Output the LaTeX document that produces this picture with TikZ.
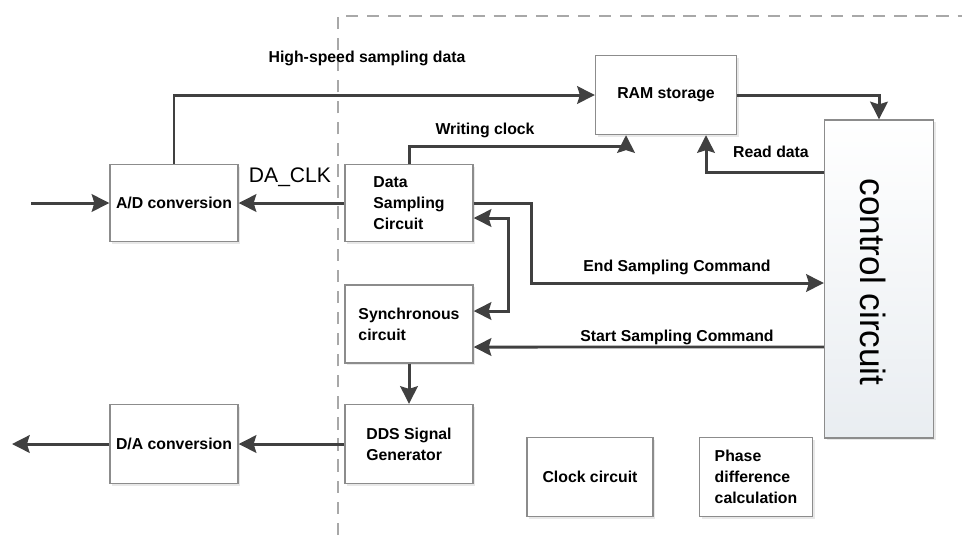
\documentclass[tikz,border=0pt]{standalone}
\usepackage{fontspec}
\setmainfont{Liberation Sans}
\usetikzlibrary{arrows.meta,shadows}

\definecolor{linegray}{HTML}{404040}
\definecolor{boxgray}{HTML}{8C8C8C}
\definecolor{dashgray}{HTML}{A8A8A8}
\definecolor{ctrlfill}{HTML}{E9EDF1}

\begin{document}
\begin{tikzpicture}[x=0.02cm, y=-0.02cm,
	>={Stealth[length=10pt,width=10pt,inset=1.5pt]},
	box/.style={rectangle, draw=boxgray, line width=0.8pt, fill=white, drop shadow={opacity=0.18, shadow xshift=1.2pt, shadow yshift=-1.2pt}, align=left, font=\bfseries\fontsize{9}{12}\selectfont, inner sep=2pt},
	lbl/.style={font=\bfseries\fontsize{9}{11}\selectfont, inner sep=1pt},
	wire/.style={line width=1.7pt, draw=linegray}]
	\useasboundingbox (0,0) rectangle (962,535);
	\draw[dashgray, line width=1.1pt, dash pattern=on 7pt off 5pt] (338,535) -- (338,16) -- (962,16);

	\node[box, minimum width=2.56cm, minimum height=1.54cm] (ad) at (174,203) {A/D conversion};
	\node[box, minimum width=2.56cm, minimum height=1.54cm] (ds) at (409,203) {Data\\Sampling\\Circuit};
	\node[box, minimum width=2.56cm, minimum height=1.56cm] (sync) at (409,324) {Synchronous\\circuit};
	\node[box, minimum width=2.56cm, minimum height=1.58cm] (dds) at (409,444) {DDS Signal\\Generator};
	\node[box, minimum width=2.56cm, minimum height=1.58cm] (da) at (174,444) {D/A conversion};
	\node[box, minimum width=2.82cm, minimum height=1.58cm] (ram) at (666,95) {RAM storage};
	\node[box, minimum width=2.18cm, minimum height=6.36cm, top color=white, bottom color=ctrlfill] (ctrl) at (879,279) {};
	\node[rotate=-90, font=\fontsize{20}{24}\selectfont] (ctrltxt) at (873,282) {control circuit};
	\node[box, minimum width=2.52cm, minimum height=1.58cm] (clk) at (590,477) {Clock circuit};
	\node[box, minimum width=2.26cm, minimum height=1.58cm] (phase) at (756,477) {Phase\\difference\\calculation};

	\coordinate (adin) at (31,203);
	\coordinate (daout) at (12,444);

	\draw[wire,->] (adin) -- (ad);
	\draw[wire,->] (ad.north) |- (ram);
	\draw[wire,->] (ds) -- (ad);
	\draw[wire,->] (ds.north) -- ++(0,-17.5) -| ([xshift=-0.8cm]ram.south);
	\draw[wire,->] ([yshift=-1.06cm]ctrl.north west) -| ([xshift=0.8cm]ram.south);
	\draw[wire,->] (ram) -| (ctrl);
	\draw[wire,->] (ds.east) -- ++(58,0) |- ([yshift=-0.08cm]ctrl.west);
	\draw[wire,<->] ([yshift=-0.3cm]ds.east) -- ++(35,0) |- ([yshift=0.26cm]sync.east);
	\draw[wire,->] ([yshift=-1.36cm]ctrl.west) -- ([yshift=-0.46cm]sync.east);
	\draw[wire,->] (sync) -- (dds);
	\draw[wire,->] (dds) -- (da);
	\draw[wire,->] (da) -- (daout);

	\node[lbl] (hsd) at (367,58) {High-speed sampling data};
	\node[font=\fontsize{12}{14}\selectfont, inner sep=1pt] (daclk) at (290,177) {DA\_CLK};
	\node[lbl] (wclk) at (485,130) {Writing clock};
	\node[lbl] (rdata) at (771,152) {Read data};
	\node[lbl] (endcmd) at (677,267) {End Sampling Command};
	\node[lbl] (startcmd) at (677,337) {Start Sampling Command};
\end{tikzpicture}
\end{document}
